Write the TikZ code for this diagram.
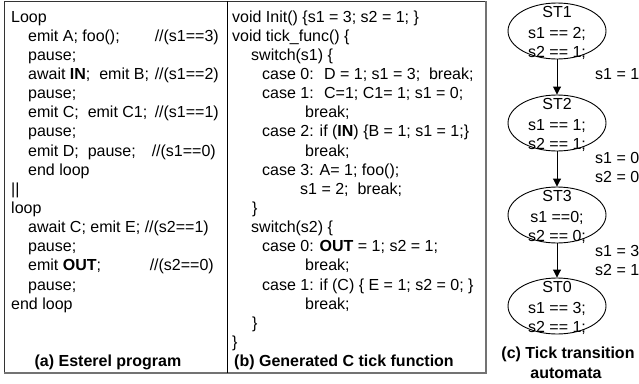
\documentclass[tikz,border=0pt]{standalone}
\usepackage{fontspec}
\setmainfont{Liberation Sans}
\usetikzlibrary{arrows.meta,shapes.geometric}
\newcommand\fsz{\fontsize{16}{19}\selectfont}
\begin{document}
\begin{tikzpicture}[x=1pt,y=-1pt,
  code/.style={anchor=base west, inner sep=0pt, font=\fsz},
  cmt/.style={anchor=base east, inner sep=0pt, font=\fsz},
  captxt/.style={anchor=base, inner sep=0pt, font=\fsz\bfseries},
  stline/.style={anchor=base, inner sep=0pt, font=\fsz},
  stell/.style={ellipse, draw, line width=0.9pt, minimum width=98pt, minimum height=56pt, inner sep=0pt},
  trans/.style={-{Triangle[length=8pt,width=8pt]}, line width=0.9pt},
  lbl/.style={anchor=base west, inner sep=0pt, font=\fsz}]
\useasboundingbox (0,0) rectangle (639,383);
% frame
\draw[line width=1pt, black!80] (4,373) -- (4,1) -- (486,1);
\draw[line width=1.5pt, black!55] (4,373) -- (486,373) -- (486,1);
\draw[line width=1pt] (227,1) -- (227,373);
% (a) Esterel program
\node[code] (a0) at (11,22) {Loop};
\node[code] (a1) at (28,41.15) {emit A; foo();};
\node[cmt] (c1) at (219,41.15) {//(s1==3)};
\node[code] (a2) at (28,60.3) {pause;};
\node[code] (a3) at (28,79.45) {await \textbf{IN};~ emit B;};
\node[cmt] (c3) at (219,79.45) {//(s1==2)};
\node[code] (a4) at (28,98.6) {pause;};
\node[code] (a5) at (28,117.75) {emit C;~ emit C1;};
\node[cmt] (c5) at (219,117.75) {//(s1==1)};
\node[code] (a6) at (28,136.9) {pause;};
\node[code] (a7) at (28,156.05) {emit D;~ pause;};
\node[cmt] (c7) at (216,156.05) {//(s1==0)};
\node[code] (a8) at (28,175.2) {end loop};
\node[code] (a9) at (11,194.35) {||};
\node[code] (a10) at (11,213.5) {loop};
\node[code] (a11) at (28,232.65) {await C; emit E;};
\node[cmt] (c11) at (209,232.65) {//(s2==1)};
\node[code] (a12) at (28,251.8) {pause;};
\node[code] (a13) at (28,270.95) {emit \textbf{OUT};};
\node[cmt] (c13) at (214,270.95) {//(s2==0)};
\node[code] (a14) at (28,290.1) {pause;};
\node[code] (a15) at (11,309.25) {end loop};
\node[captxt] (capa) at (108,366) {(a) Esterel program};
% (b) Generated C tick function
\node[code] (b0) at (232,22) {void Init() \{s1 = 3; s2 = 1; \}};
\node[code] (b1) at (232,41.15) {void tick\_func() \{};
\node[code] (b2) at (251,60.3) {switch(s1) \{};
\node[code] (b3) at (262,79.45) {case 0:~ D = 1; s1 = 3;~ break;};
\node[code] (b4) at (262,98.6) {case 1:~ C=1; C1= 1; s1 = 0;};
\node[code] (b5) at (305,117.75) {break;};
\node[code] (b6) at (262,136.9) {case 2: if (\textbf{IN}) \{B = 1; s1 = 1;\}};
\node[code] (b7) at (305,156.05) {break;};
\node[code] (b8) at (262,175.2) {case 3: A= 1; foo();};
\node[code] (b9) at (300,194.35) {s1 = 2;~ break;};
\node[code] (b10) at (252,213.5) {\}};
\node[code] (b11) at (251,232.65) {switch(s2) \{};
\node[code] (b12) at (262,251.8) {case 0: \textbf{OUT} = 1; s2 = 1;};
\node[code] (b13) at (305,270.95) {break;};
\node[code] (b14) at (262,290.1) {case 1: if (C) \{ E = 1; s2 = 0; \}};
\node[code] (b15) at (305,309.25) {break;};
\node[code] (b16) at (252,328.4) {\}};
\node[code] (b17) at (232,347.55) {\}};
\node[captxt, anchor=base west] (capb) at (234,366) {(b) Generated C tick function};
% (c) Tick transition automata
\node[stell] (st1) at (557,31) {};
\node[stell] (st2) at (557,123) {};
\node[stell] (st3) at (557,215) {};
\node[stell] (st0) at (557,306) {};
\node[stline] (t1a) at (557,17.7) {ST1};
\node[stline] (t1b) at (557,38) {s1 == 2;};
\node[stline] (t1c) at (557,57.5) {s2 == 1;};
\node[stline] (t2a) at (557,109.7) {ST2};
\node[stline] (t2b) at (557,130) {s1 == 1;};
\node[stline] (t2c) at (557,149.5) {s2 == 1;};
\node[stline] (t3a) at (557,201.7) {ST3};
\node[stline] (t3b) at (557,222) {s1 ==0;};
\node[stline] (t3c) at (557,241.5) {s2 == 0;};
\node[stline] (t0a) at (557,292.7) {ST0};
\node[stline] (t0b) at (557,313) {s1 == 3;};
\node[stline] (t0c) at (557,332.5) {s2 == 1;};
\draw[trans] (st1.south) -- (st2.north);
\draw[trans] (st2.south) -- (st3.north);
\draw[trans] (st3.south) -- (st0.north);
\node[lbl] (l1) at (595,79) {s1 = 1};
\node[lbl] (l2a) at (595,163) {s1 = 0};
\node[lbl] (l2b) at (595,182) {s2 = 0};
\node[lbl] (l3a) at (595,256) {s1 = 3};
\node[lbl] (l3b) at (595,275) {s2 = 1};
\node[captxt] (capc1) at (568,358) {(c) Tick transition};
\node[captxt] (capc2) at (566,378) {automata};
\end{tikzpicture}
\end{document}
